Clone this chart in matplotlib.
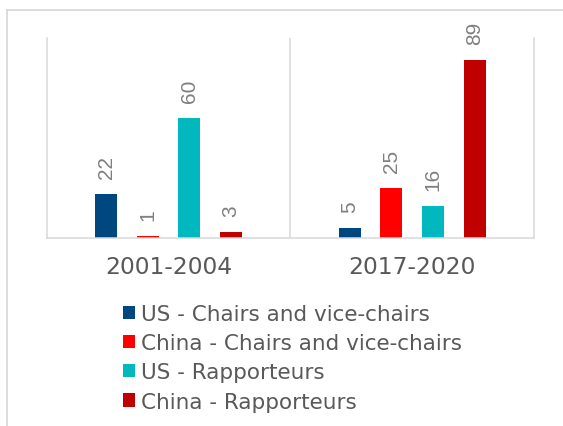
import numpy as np
import matplotlib.pyplot as plt
from matplotlib.lines import Line2D

### dados ###
periods = ['2001-2004', '2017-2020']
series_names = ['US - Chairs and vice-chairs', 'China - Chairs and vice-chairs',
                'US - Rapporteurs', 'China - Rapporteurs']
us_chairs = [22, 5]
china_chairs = [1, 25]
us_rapp = [60, 16]
china_rapp = [3, 89]

colors = ['#00467F', '#FF0000', '#00B8BE', '#C00000']
grid_col = '#D9D9D9'
text_col = '#595959'
label_col = '#7F7F7F'

### figura ###
fig = plt.figure(figsize=(5.63, 4.27), dpi=100)
ax = fig.add_axes([0.083, 0.4396, 0.8655, 0.4684])

# moldura cinza (so topo e esquerda aparecem)
fig.add_artist(Line2D([0.013, 1.0], [0.974, 0.974], transform=fig.transFigure,
                      color=grid_col, linewidth=1.3))
fig.add_artist(Line2D([0.013, 0.013], [0.974, 0.0], transform=fig.transFigure,
                      color=grid_col, linewidth=1.3))

x = np.arange(len(periods))
step = 0.1708
width = 0.0905
all_series = [us_chairs, china_chairs, us_rapp, china_rapp]

for i, vals in enumerate(all_series):
    pos = x + (i - 1.5) * step
    bars = ax.bar(pos, vals, width=width, color=colors[i], label=series_names[i])
    for b, v in zip(bars, vals):
        ax.annotate(str(v), (b.get_x() + b.get_width() / 2, v),
                    xytext=(0, 11.5), textcoords='offset points',
                    rotation=90, ha='center', va='bottom',
                    fontsize=15, color=label_col, family='Liberation Sans')

ax.set_xlim(-0.5, 1.5)
ax.set_ylim(0, 100)
ax.axvline(0.5, color=grid_col, linewidth=1.1)

ax.set_xticks(x)
ax.set_xticklabels(periods, fontsize=16.8, color=text_col)
ax.tick_params(axis='x', length=0, pad=12)
ax.set_yticks([])

for s in ['left', 'right', 'bottom']:
    ax.spines[s].set_color(grid_col)
    ax.spines[s].set_linewidth(1.1)
ax.spines['top'].set_visible(False)

### legenda ###
leg = fig.legend(loc='upper left', bbox_to_anchor=(0.2185, 0.286),
                 bbox_transform=fig.transFigure, frameon=False,
                 fontsize=15.5, handlelength=0.56, handleheight=0.56,
                 handletextpad=0.27, labelspacing=0.43,
                 borderpad=0, borderaxespad=0)
for t in leg.get_texts():
    t.set_color(text_col)

plt.savefig('out.png', dpi=100)
